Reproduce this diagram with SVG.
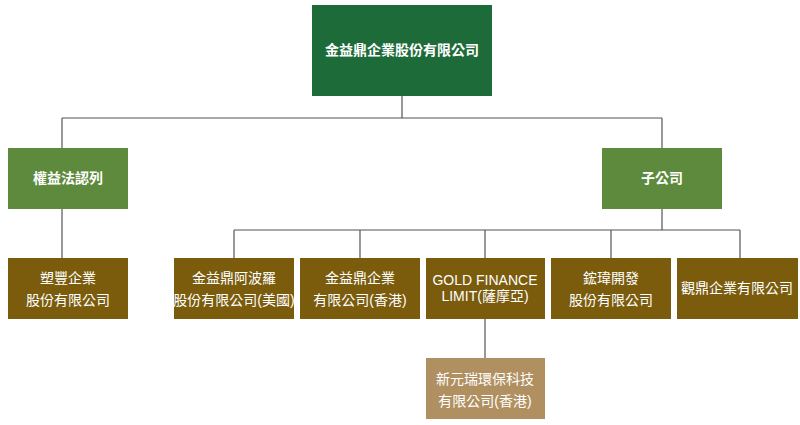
<svg xmlns="http://www.w3.org/2000/svg" width="800" height="425" viewBox="0 0 800 425">
<style>
.t{font-family:"Liberation Sans","Noto Sans CJK TC",sans-serif;font-size:14px;fill:#fff;text-anchor:middle}
.b{font-weight:bold}
.c{stroke:#555;stroke-width:1.2;fill:none}
.br{fill:#7a5c0c}
</style>
<rect width="800" height="425" fill="#fff"/>
<g id="connectors">
<path class="c" d="M402 96V118M62 118H662M62 118V148M662 118V148M62 209V258M662 209V230M234 230H740M234 230V258M360 230V258M485 230V258M611 230V258M740 230V258M485 319V358"/>
</g>
<g id="root"><rect x="312" y="5" width="180" height="91" fill="#1e6b3a"/><text class="t b" x="402" y="55">金益鼎企業股份有限公司</text></g>
<g id="equity"><rect x="8" y="148" width="120" height="61" fill="#5d8a3c"/><text class="t b" x="68" y="183">權益法認列</text></g>
<g id="subs"><rect x="602" y="148" width="120" height="61" fill="#5d8a3c"/><text class="t b" x="662" y="183">子公司</text></g>
<g id="n1"><rect class="br" x="8" y="258" width="120" height="61"/><text class="t" x="68" y="283">塑豐企業</text><text class="t" x="68" y="305">股份有限公司</text></g>
<g id="n2"><rect class="br" x="174" y="258" width="120" height="61"/><text class="t" x="234" y="283">金益鼎阿波羅</text><text class="t" x="234" y="305">股份有限公司(美國)</text></g>
<g id="n3"><rect class="br" x="300" y="258" width="120" height="61"/><text class="t" x="360" y="283">金益鼎企業</text><text class="t" x="360" y="305">有限公司(香港)</text></g>
<g id="n4"><rect class="br" x="426" y="258" width="119" height="61"/><text class="t" x="485" y="285">GOLD FINANCE</text><text class="t" x="485" y="301">LIMIT(薩摩亞)</text></g>
<g id="n5"><rect class="br" x="551" y="258" width="120" height="61"/><text class="t" x="611" y="283">鋐瑋開發</text><text class="t" x="611" y="305">股份有限公司</text></g>
<g id="n6"><rect class="br" x="677" y="258" width="121" height="61"/><text class="t" x="737" y="293">觀鼎企業有限公司</text></g>
<g id="n7"><rect x="426" y="358" width="119" height="61" fill="#b09060"/><text class="t" x="485" y="384">新元瑞環保科技</text><text class="t" x="485" y="406">有限公司(香港)</text></g>
</svg>
